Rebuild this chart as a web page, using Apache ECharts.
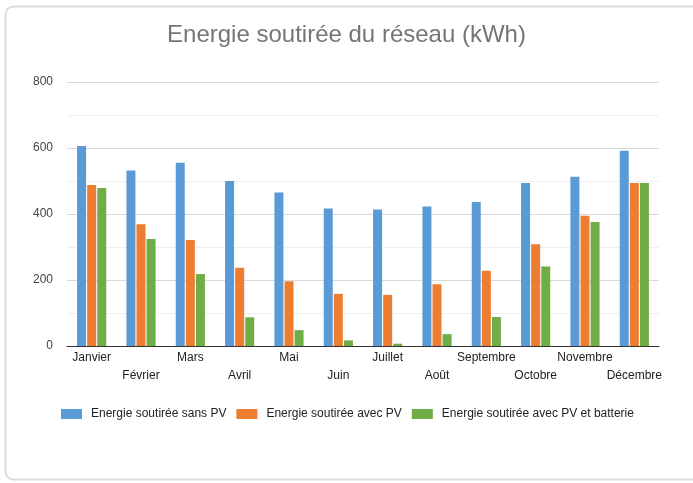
<!DOCTYPE html>
<html>
<head>
    <meta charset="utf-8">
    <title>Energie soutirée</title>
    <script src="https://cdn.jsdelivr.net/npm/echarts@6/dist/echarts.min.js"></script>
    <style>
        *{ margin: 0; padding: 0; }
        html,body{ width: 100%; height: 100%; overflow: hidden; background: #fff; }
        #main{ width: 693px; height: 483px; }
    </style>
</head>
<body>
<div id="main"></div>
<script>
    // données
    let mois = ['Janvier', 'Février', 'Mars', 'Avril', 'Mai', 'Juin', 'Juillet', 'Août', 'Septembre', 'Octobre', 'Novembre', 'Décembre'];
    let sansPV = [606, 532, 555, 500, 465, 417, 414, 423, 436, 494, 513, 592];
    let avecPV = [488, 369, 321, 237, 196, 158, 155, 187, 228, 308, 395, 494];
    let avecBatterie = [479, 324, 218, 87, 48, 17, 7, 36, 88, 241, 376, 494];
    let noms = ['Energie soutirée sans PV', 'Energie soutirée avec PV', 'Energie soutirée avec PV et batterie'];
    let couleurs = ['#5b9bd5', '#ed7d31', '#70ad47'];

    let font = 'Arial, "Liberation Sans", sans-serif';
    let myCharts = echarts.init(document.getElementById('main'));

    let series = [sansPV, avecPV, avecBatterie].map((d, i) => ({
        name: noms[i],
        type: 'bar',
        data: d,
        barWidth: 9,
        barGap: '12%',
        itemStyle: { color: couleurs[i] }
    }));

    let option = {
        backgroundColor: '#fff',
        animation: false,
        color: couleurs,
        graphic: [{
            type: 'rect',
            shape: { x: 5.5, y: 6.5, width: 720, height: 473, r: 8 },
            style: { fill: 'none', stroke: '#dcdcdc', lineWidth: 2 },
            silent: true
        }],
        title: {
            text: 'Energie soutirée du réseau (kWh)',
            left: 'center',
            top: 18,
            textStyle: { color: '#757575', fontSize: 24, fontWeight: 'normal', fontFamily: font }
        },
        legend: {
            data: noms,
            left: 56,
            top: 403,
            itemWidth: 21,
            itemHeight: 10,
            itemGap: 10,
            icon: 'rect',
            textStyle: { color: '#222', fontSize: 12, fontFamily: font, padding: [0, 0, 0, 4] }
        },
        grid: { left: 67, right: 34, top: 82, bottom: 137 },
        xAxis: {
            type: 'category',
            data: mois,
            axisLine: { lineStyle: { color: '#333', width: 1 } },
            axisTick: { show: false },
            axisLabel: {
                interval: 0,
                margin: 3,
                color: '#222',
                fontSize: 12,
                fontFamily: font,
                lineHeight: 18,
                formatter: function (v, i) { return i % 2 ? '\n' + v : v; }
            }
        },
        yAxis: {
            type: 'value',
            min: 0,
            max: 800,
            interval: 100,
            axisLine: { show: false },
            axisTick: { show: false },
            axisLabel: {
                margin: 14,
                color: '#444',
                fontSize: 12,
                fontFamily: font,
                formatter: function (v) { return v % 200 === 0 ? v : ''; }
            },
            splitLine: { lineStyle: { color: ['#d9d9d9', '#efefef'], width: 1 } }
        },
        series
    };
    myCharts.setOption(option);
</script>
</body>
</html>
